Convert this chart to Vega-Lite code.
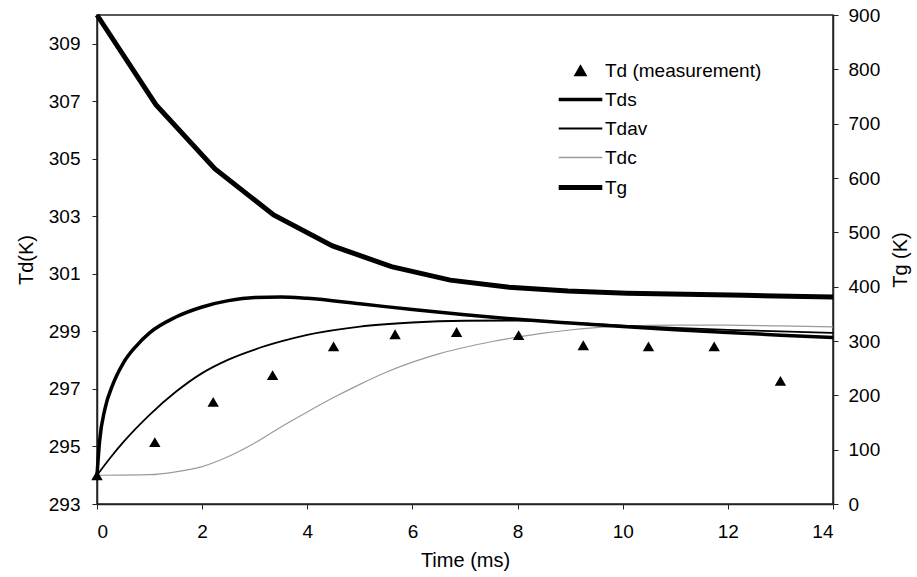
{
  "$schema": "https://vega.github.io/schema/vega-lite/v6.json",
  "width": 736,
  "height": 489,
  "autosize": "none",
  "padding": {"left": 97, "top": 15, "right": 84, "bottom": 73},
  "background": "white",
  "config": {
    "view": {"stroke": "#222", "strokeWidth": 1.5},
    "font": "Liberation Sans",
    "axis": {
      "grid": false,
      "domainColor": "#222",
      "domainWidth": 1.5,
      "tickColor": "#222",
      "tickSize": 5,
      "tickWidth": 1,
      "labelFont": "Liberation Sans",
      "labelFontSize": 19,
      "labelColor": "#000",
      "titleFont": "Liberation Sans",
      "titleFontSize": 20,
      "titleFontWeight": "normal",
      "titleColor": "#000"
    }
  },
  "datasets": {
    "meas": [
      {"t": 0, "v": 294, "series": "Td (measurement)"},
      {"t": 1.1, "v": 295.15, "series": "Td (measurement)"},
      {"t": 2.21, "v": 296.55, "series": "Td (measurement)"},
      {"t": 3.34, "v": 297.48, "series": "Td (measurement)"},
      {"t": 4.5, "v": 298.48, "series": "Td (measurement)"},
      {"t": 5.67, "v": 298.9, "series": "Td (measurement)"},
      {"t": 6.84, "v": 298.98, "series": "Td (measurement)"},
      {"t": 8.02, "v": 298.87, "series": "Td (measurement)"},
      {"t": 9.25, "v": 298.52, "series": "Td (measurement)"},
      {"t": 10.49, "v": 298.48, "series": "Td (measurement)"},
      {"t": 11.74, "v": 298.48, "series": "Td (measurement)"},
      {"t": 13.0, "v": 297.28, "series": "Td (measurement)"}
    ],
    "tds": [
      {"t": 0, "v": 294, "series": "Tds"},
      {"t": 0.05, "v": 295.2, "series": "Tds"},
      {"t": 0.15, "v": 296.3, "series": "Tds"},
      {"t": 0.3, "v": 297.15, "series": "Tds"},
      {"t": 0.5, "v": 297.9, "series": "Tds"},
      {"t": 0.75, "v": 298.5, "series": "Tds"},
      {"t": 1, "v": 298.95, "series": "Tds"},
      {"t": 1.5, "v": 299.5, "series": "Tds"},
      {"t": 2, "v": 299.85, "series": "Tds"},
      {"t": 2.5, "v": 300.07, "series": "Tds"},
      {"t": 3, "v": 300.18, "series": "Tds"},
      {"t": 3.5, "v": 300.2, "series": "Tds"},
      {"t": 4, "v": 300.15, "series": "Tds"},
      {"t": 5, "v": 299.96, "series": "Tds"},
      {"t": 6, "v": 299.76, "series": "Tds"},
      {"t": 7, "v": 299.58, "series": "Tds"},
      {"t": 8, "v": 299.42, "series": "Tds"},
      {"t": 9, "v": 299.29, "series": "Tds"},
      {"t": 10, "v": 299.17, "series": "Tds"},
      {"t": 11, "v": 299.06, "series": "Tds"},
      {"t": 12, "v": 298.96, "series": "Tds"},
      {"t": 13, "v": 298.87, "series": "Tds"},
      {"t": 14, "v": 298.79, "series": "Tds"}
    ],
    "tdav": [
      {"t": 0, "v": 294, "series": "Tdav"},
      {"t": 0.25, "v": 294.6, "series": "Tdav"},
      {"t": 0.5, "v": 295.15, "series": "Tdav"},
      {"t": 1, "v": 296.1, "series": "Tdav"},
      {"t": 1.5, "v": 296.9, "series": "Tdav"},
      {"t": 2, "v": 297.55, "series": "Tdav"},
      {"t": 2.5, "v": 298.02, "series": "Tdav"},
      {"t": 3, "v": 298.37, "series": "Tdav"},
      {"t": 3.5, "v": 298.65, "series": "Tdav"},
      {"t": 4, "v": 298.88, "series": "Tdav"},
      {"t": 5, "v": 299.17, "series": "Tdav"},
      {"t": 6, "v": 299.31, "series": "Tdav"},
      {"t": 7, "v": 299.37, "series": "Tdav"},
      {"t": 8, "v": 299.38, "series": "Tdav"},
      {"t": 9, "v": 299.3, "series": "Tdav"},
      {"t": 10, "v": 299.2, "series": "Tdav"},
      {"t": 11, "v": 299.12, "series": "Tdav"},
      {"t": 12, "v": 299.05, "series": "Tdav"},
      {"t": 13, "v": 299.0, "series": "Tdav"},
      {"t": 14, "v": 298.95, "series": "Tdav"}
    ],
    "tdc": [
      {"t": 0, "v": 294, "series": "Tdc"},
      {"t": 1, "v": 294.02, "series": "Tdc"},
      {"t": 1.5, "v": 294.12, "series": "Tdc"},
      {"t": 2, "v": 294.3, "series": "Tdc"},
      {"t": 2.5, "v": 294.65, "series": "Tdc"},
      {"t": 3, "v": 295.12, "series": "Tdc"},
      {"t": 3.5, "v": 295.68, "series": "Tdc"},
      {"t": 4, "v": 296.2, "series": "Tdc"},
      {"t": 4.5, "v": 296.7, "series": "Tdc"},
      {"t": 5, "v": 297.16, "series": "Tdc"},
      {"t": 5.5, "v": 297.58, "series": "Tdc"},
      {"t": 6, "v": 297.93, "series": "Tdc"},
      {"t": 6.5, "v": 298.22, "series": "Tdc"},
      {"t": 7, "v": 298.45, "series": "Tdc"},
      {"t": 7.5, "v": 298.64, "series": "Tdc"},
      {"t": 8, "v": 298.8, "series": "Tdc"},
      {"t": 8.5, "v": 298.94, "series": "Tdc"},
      {"t": 9, "v": 299.05, "series": "Tdc"},
      {"t": 9.5, "v": 299.13, "series": "Tdc"},
      {"t": 10, "v": 299.18, "series": "Tdc"},
      {"t": 11, "v": 299.22, "series": "Tdc"},
      {"t": 12, "v": 299.22, "series": "Tdc"},
      {"t": 13, "v": 299.19, "series": "Tdc"},
      {"t": 14, "v": 299.16, "series": "Tdc"}
    ],
    "tg": [
      {"t": 0, "v": 900, "series": "Tg"},
      {"t": 1.12, "v": 735, "series": "Tg"},
      {"t": 2.24, "v": 617, "series": "Tg"},
      {"t": 3.36, "v": 532, "series": "Tg"},
      {"t": 4.48, "v": 475, "series": "Tg"},
      {"t": 5.6, "v": 437, "series": "Tg"},
      {"t": 6.72, "v": 412, "series": "Tg"},
      {"t": 7.84, "v": 399, "series": "Tg"},
      {"t": 8.96, "v": 392, "series": "Tg"},
      {"t": 10.08, "v": 388, "series": "Tg"},
      {"t": 11.2, "v": 386, "series": "Tg"},
      {"t": 12.32, "v": 384, "series": "Tg"},
      {"t": 13.44, "v": 382, "series": "Tg"},
      {"t": 14, "v": 381, "series": "Tg"}
    ]
  },
  "encoding": {
    "x": {
      "field": "t",
      "type": "quantitative",
      "scale": {"domain": [0, 14], "nice": false, "zero": false},
      "axis": {"values": [0, 2, 4, 6, 8, 10, 12, 14], "title": "Time (ms)", "labelPadding": 13, "titlePadding": 9}
    },
    "color": {
      "field": "series",
      "type": "nominal",
      "scale": {
        "domain": ["Td (measurement)", "Tds", "Tdav", "Tdc", "Tg"],
        "range": ["#000000", "#000000", "#000000", "#9a9a9a", "#000000"]
      },
      "legend": {
        "orient": "none",
        "legendX": 474,
        "legendY": 46,
        "title": null,
        "labelFont": "Liberation Sans",
        "labelFontSize": 19,
        "labelColor": "#000",
        "labelOffset": 15,
        "rowPadding": 9,
        "symbolSize": 1900,
        "symbolType": "stroke",
        "encode": {
          "symbols": {
            "update": {
              "shape": {"signal": "datum.value === 'Td (measurement)' ? 'triangle-up' : 'stroke'"},
              "size": {"signal": "datum.value === 'Td (measurement)' ? 130 : 1900"},
              "strokeWidth": {"signal": "datum.value === 'Tg' ? 5 : datum.value === 'Tds' ? 3.5 : datum.value === 'Tdav' ? 1.8 : 1.4"},
              "fill": {"signal": "datum.value === 'Td (measurement)' ? '#000' : 'transparent'"},
              "stroke": {"signal": "datum.value === 'Td (measurement)' ? 'transparent' : datum.value === 'Tdc' ? '#9a9a9a' : '#000'"},
              "opacity": {"value": 1},
              "fillOpacity": {"value": 1},
              "strokeOpacity": {"value": 1}
            }
          }
        }
      }
    }
  },
  "layer": [
    {
      "encoding": {
        "y": {
          "field": "v",
          "type": "quantitative",
          "scale": {"domain": [293, 310], "nice": false, "zero": false},
          "axis": {"values": [293, 295, 297, 299, 301, 303, 305, 307, 309], "title": "Td(K)", "labelPadding": 12, "titlePadding": 12}
        }
      },
      "layer": [
        {
          "data": {"name": "tdc"},
          "mark": {"type": "line", "strokeWidth": 1.2, "interpolate": "monotone"}
        },
        {
          "data": {"name": "tdav"},
          "mark": {"type": "line", "strokeWidth": 1.8, "interpolate": "monotone"}
        },
        {
          "data": {"name": "tds"},
          "mark": {"type": "line", "strokeWidth": 3.5, "interpolate": "monotone"}
        },
        {
          "data": {"name": "meas"},
          "mark": {"type": "point", "shape": "triangle-up", "filled": true, "size": 130, "opacity": 1}
        }
      ]
    },
    {
      "data": {"name": "tg"},
      "mark": {"type": "line", "strokeWidth": 5},
      "encoding": {
        "y": {
          "field": "v",
          "type": "quantitative",
          "scale": {"domain": [0, 900], "nice": false, "zero": false},
          "axis": {"orient": "right", "values": [0, 100, 200, 300, 400, 500, 600, 700, 800, 900], "title": "Tg (K)", "labelPadding": 10, "titlePadding": 11, "titleAngle": -90, "titleBaseline": "top"}
        }
      }
    }
  ],
  "resolve": {"scale": {"y": "independent"}}
}
